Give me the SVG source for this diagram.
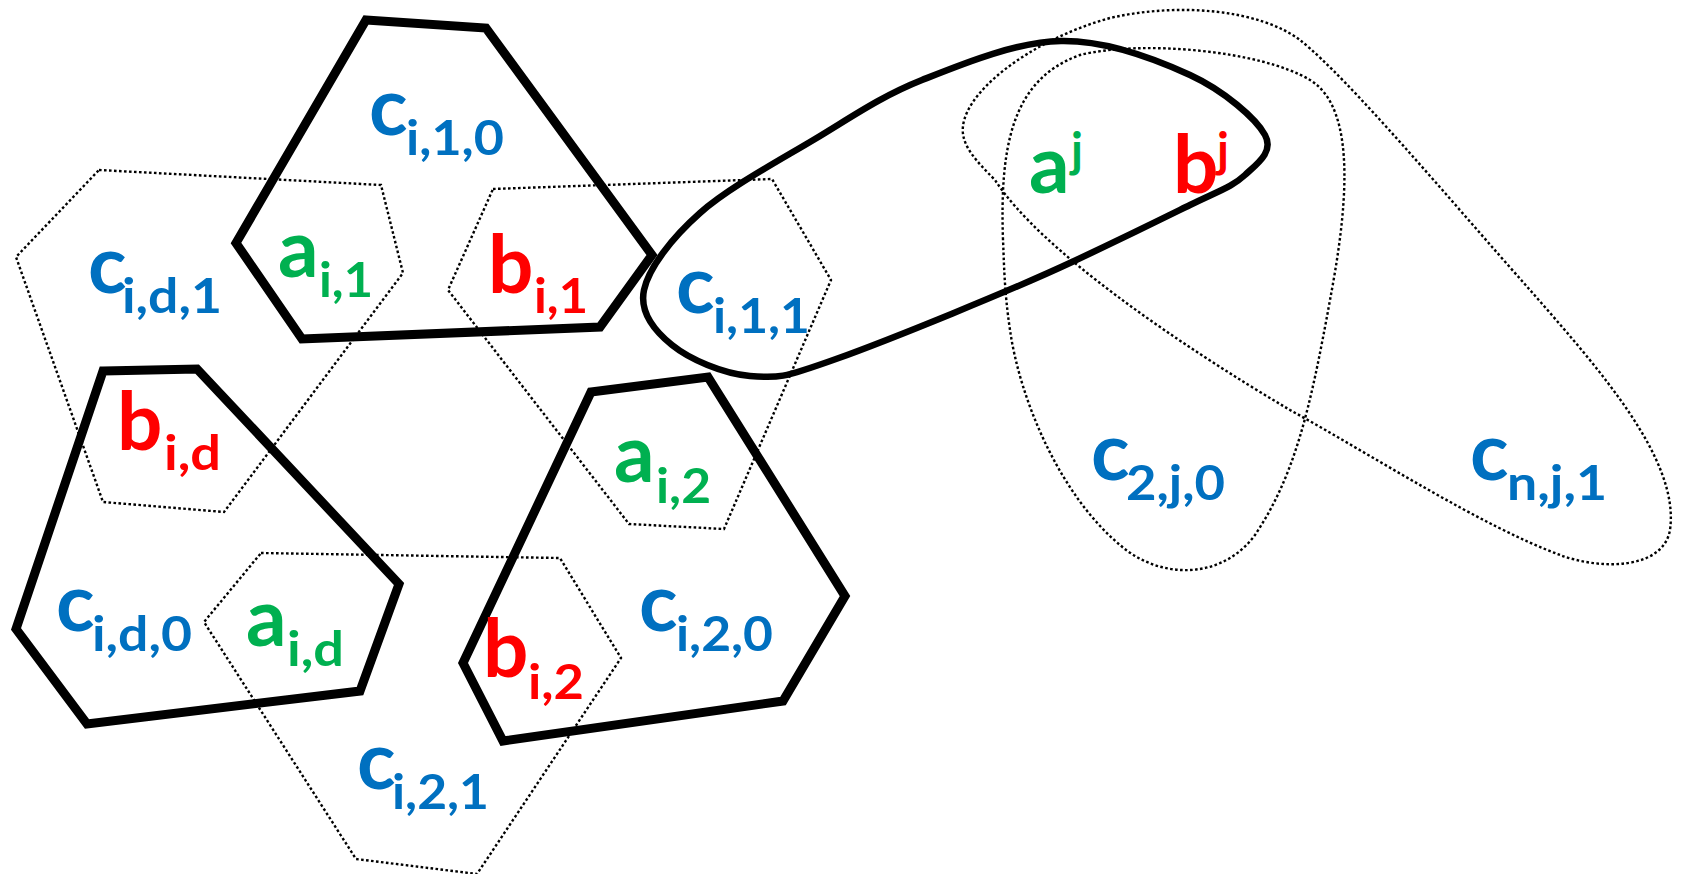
<svg xmlns="http://www.w3.org/2000/svg" width="1681" height="874" viewBox="0 0 1681 874">
<style>
.dot{fill:none;stroke:#000;stroke-width:2.4;stroke-dasharray:2.6 2.4}
.thick{fill:none;stroke:#000;stroke-width:9;stroke-linejoin:miter}
.oval{fill:none;stroke:#000;stroke-width:6.5}
text{font-family:Lato,"Open Sans","DejaVu Sans",sans-serif;font-weight:bold}
.m{font-size:80px}
.s{font-size:47px}
.blue{fill:#0070C0}
.green{fill:#00B050}
.red{fill:#FF0000}
</style>
<rect width="1681" height="874" fill="#fff"/>
<g id="dotted-shapes">
<polygon id="hex-cid1" class="dot" points="99,170 381,185 403,273 224,512 103,502 16,257"/>
<polygon id="hex-bi1" class="dot" points="493,189 772,179 831,280 724,529 629,524 448,290"/>
<polygon id="hex-ci21" class="dot" points="261,553 560,558 621,658 477,874 356,859 204,622"/>
<path id="egg-c2j0" class="dot" d="M 1003,240 C 1000,150 1010,80 1080,55 C 1140,40 1260,50 1310,80 C 1360,110 1345,220 1330,300 C 1310,410 1295,475 1255,535 C 1222,580 1160,580 1120,545 C 1060,495 1020,400 1010,330 C 1004,290 1004,260 1003,240 Z"/>
<path id="oval-cnj1" class="dot" d="M 963,134 C 958,95 1030,40 1110,18 C 1180,2 1260,10 1300,40 C 1350,80 1450,200 1530,290 C 1600,370 1680,460 1670,530 C 1663,570 1600,570 1560,555 C 1480,525 1380,460 1290,410 C 1180,345 1040,250 995,180 C 975,160 965,148 963,134 Z"/>
</g>
<g id="thick-shapes">
<polygon id="pent-ci10" class="thick" points="366,20 486,28 652,255 600,327 302,339 236,243"/>
<polygon id="pent-bid" class="thick" points="103,371 197,369 399,584 360,691 87,724 16,629"/>
<polygon id="pent-ci20" class="thick" points="591,392 708,377 845,596 783,701 503,741 463,663"/>
<path id="oval-j" class="oval" d="M 644,290 C 648.7,268 671.5,238.2 700,213 C 728.5,187.8 778,161.2 815,139 C 852,116.8 881,96.3 922,80 C 963,63.7 1016.3,41.8 1061,41 C 1105.7,40.2 1156,59.3 1190,75 C 1224,90.7 1255.8,118.3 1265,135 C 1274.2,151.7 1257.5,163.3 1245,175 C 1232.5,186.7 1218.8,190.8 1190,205 C 1161.2,219.2 1131,234.3 1072,262 C 1013,289.7 889.7,339.7 836,359 C 782.3,378.3 777.3,378.3 750,376 C 722.7,373.7 689.7,359.3 672,345 C 654.3,330.7 639.3,312 644,290 Z"/>
</g>
<g id="labels">
<g id="l-ci10" class="blue"><text class="m" x="369" y="135">c</text><text class="s" x="406" y="155" textLength="98" lengthAdjust="spacingAndGlyphs">i,1,0</text></g>
<g id="l-cid1" class="blue"><text class="m" x="88" y="293">c</text><text class="s" x="122" y="313" textLength="100" lengthAdjust="spacingAndGlyphs">i,d,1</text></g>
<g id="l-ai1" class="green"><text class="m" x="278" y="277">a</text><text class="s" x="319" y="297" textLength="54" lengthAdjust="spacingAndGlyphs">i,1</text></g>
<g id="l-bi1" class="red"><text class="m" x="488" y="293">b</text><text class="s" x="534" y="313" textLength="54" lengthAdjust="spacingAndGlyphs">i,1</text></g>
<g id="l-ci11" class="blue"><text class="m" x="676" y="313">c</text><text class="s" x="713" y="333" textLength="97" lengthAdjust="spacingAndGlyphs">i,1,1</text></g>
<g id="l-bid" class="red"><text class="m" x="117" y="450">b</text><text class="s" x="164" y="470" textLength="57" lengthAdjust="spacingAndGlyphs">i,d</text></g>
<g id="l-cid0" class="blue"><text class="m" x="56" y="631">c</text><text class="s" x="92" y="651" textLength="100" lengthAdjust="spacingAndGlyphs">i,d,0</text></g>
<g id="l-aid" class="green"><text class="m" x="246" y="646">a</text><text class="s" x="287" y="666" textLength="57" lengthAdjust="spacingAndGlyphs">i,d</text></g>
<g id="l-bi2" class="red"><text class="m" x="483" y="677">b</text><text class="s" x="528" y="699" textLength="56" lengthAdjust="spacingAndGlyphs">i,2</text></g>
<g id="l-ai2" class="green"><text class="m" x="614" y="482">a</text><text class="s" x="656" y="503" textLength="55" lengthAdjust="spacingAndGlyphs">i,2</text></g>
<g id="l-ci20" class="blue"><text class="m" x="639" y="631">c</text><text class="s" x="676" y="651" textLength="97" lengthAdjust="spacingAndGlyphs">i,2,0</text></g>
<g id="l-ci21" class="blue"><text class="m" x="357" y="789">c</text><text class="s" x="392" y="809" textLength="97" lengthAdjust="spacingAndGlyphs">i,2,1</text></g>
<g id="l-aj" class="green"><text class="m" x="1029" y="193">a</text><text class="s" x="1071" y="167">j</text></g>
<g id="l-bj" class="red"><text class="m" x="1173" y="193">b</text><text class="s" x="1217" y="167">j</text></g>
<g id="l-c2j0" class="blue"><text class="m" x="1091" y="480">c</text><text class="s" x="1126" y="500" textLength="99" lengthAdjust="spacingAndGlyphs">2,j,0</text></g>
<g id="l-cnj1" class="blue"><text class="m" x="1470" y="480">c</text><text class="s" x="1507" y="500" textLength="100" lengthAdjust="spacingAndGlyphs">n,j,1</text></g>
</g>
</svg>
